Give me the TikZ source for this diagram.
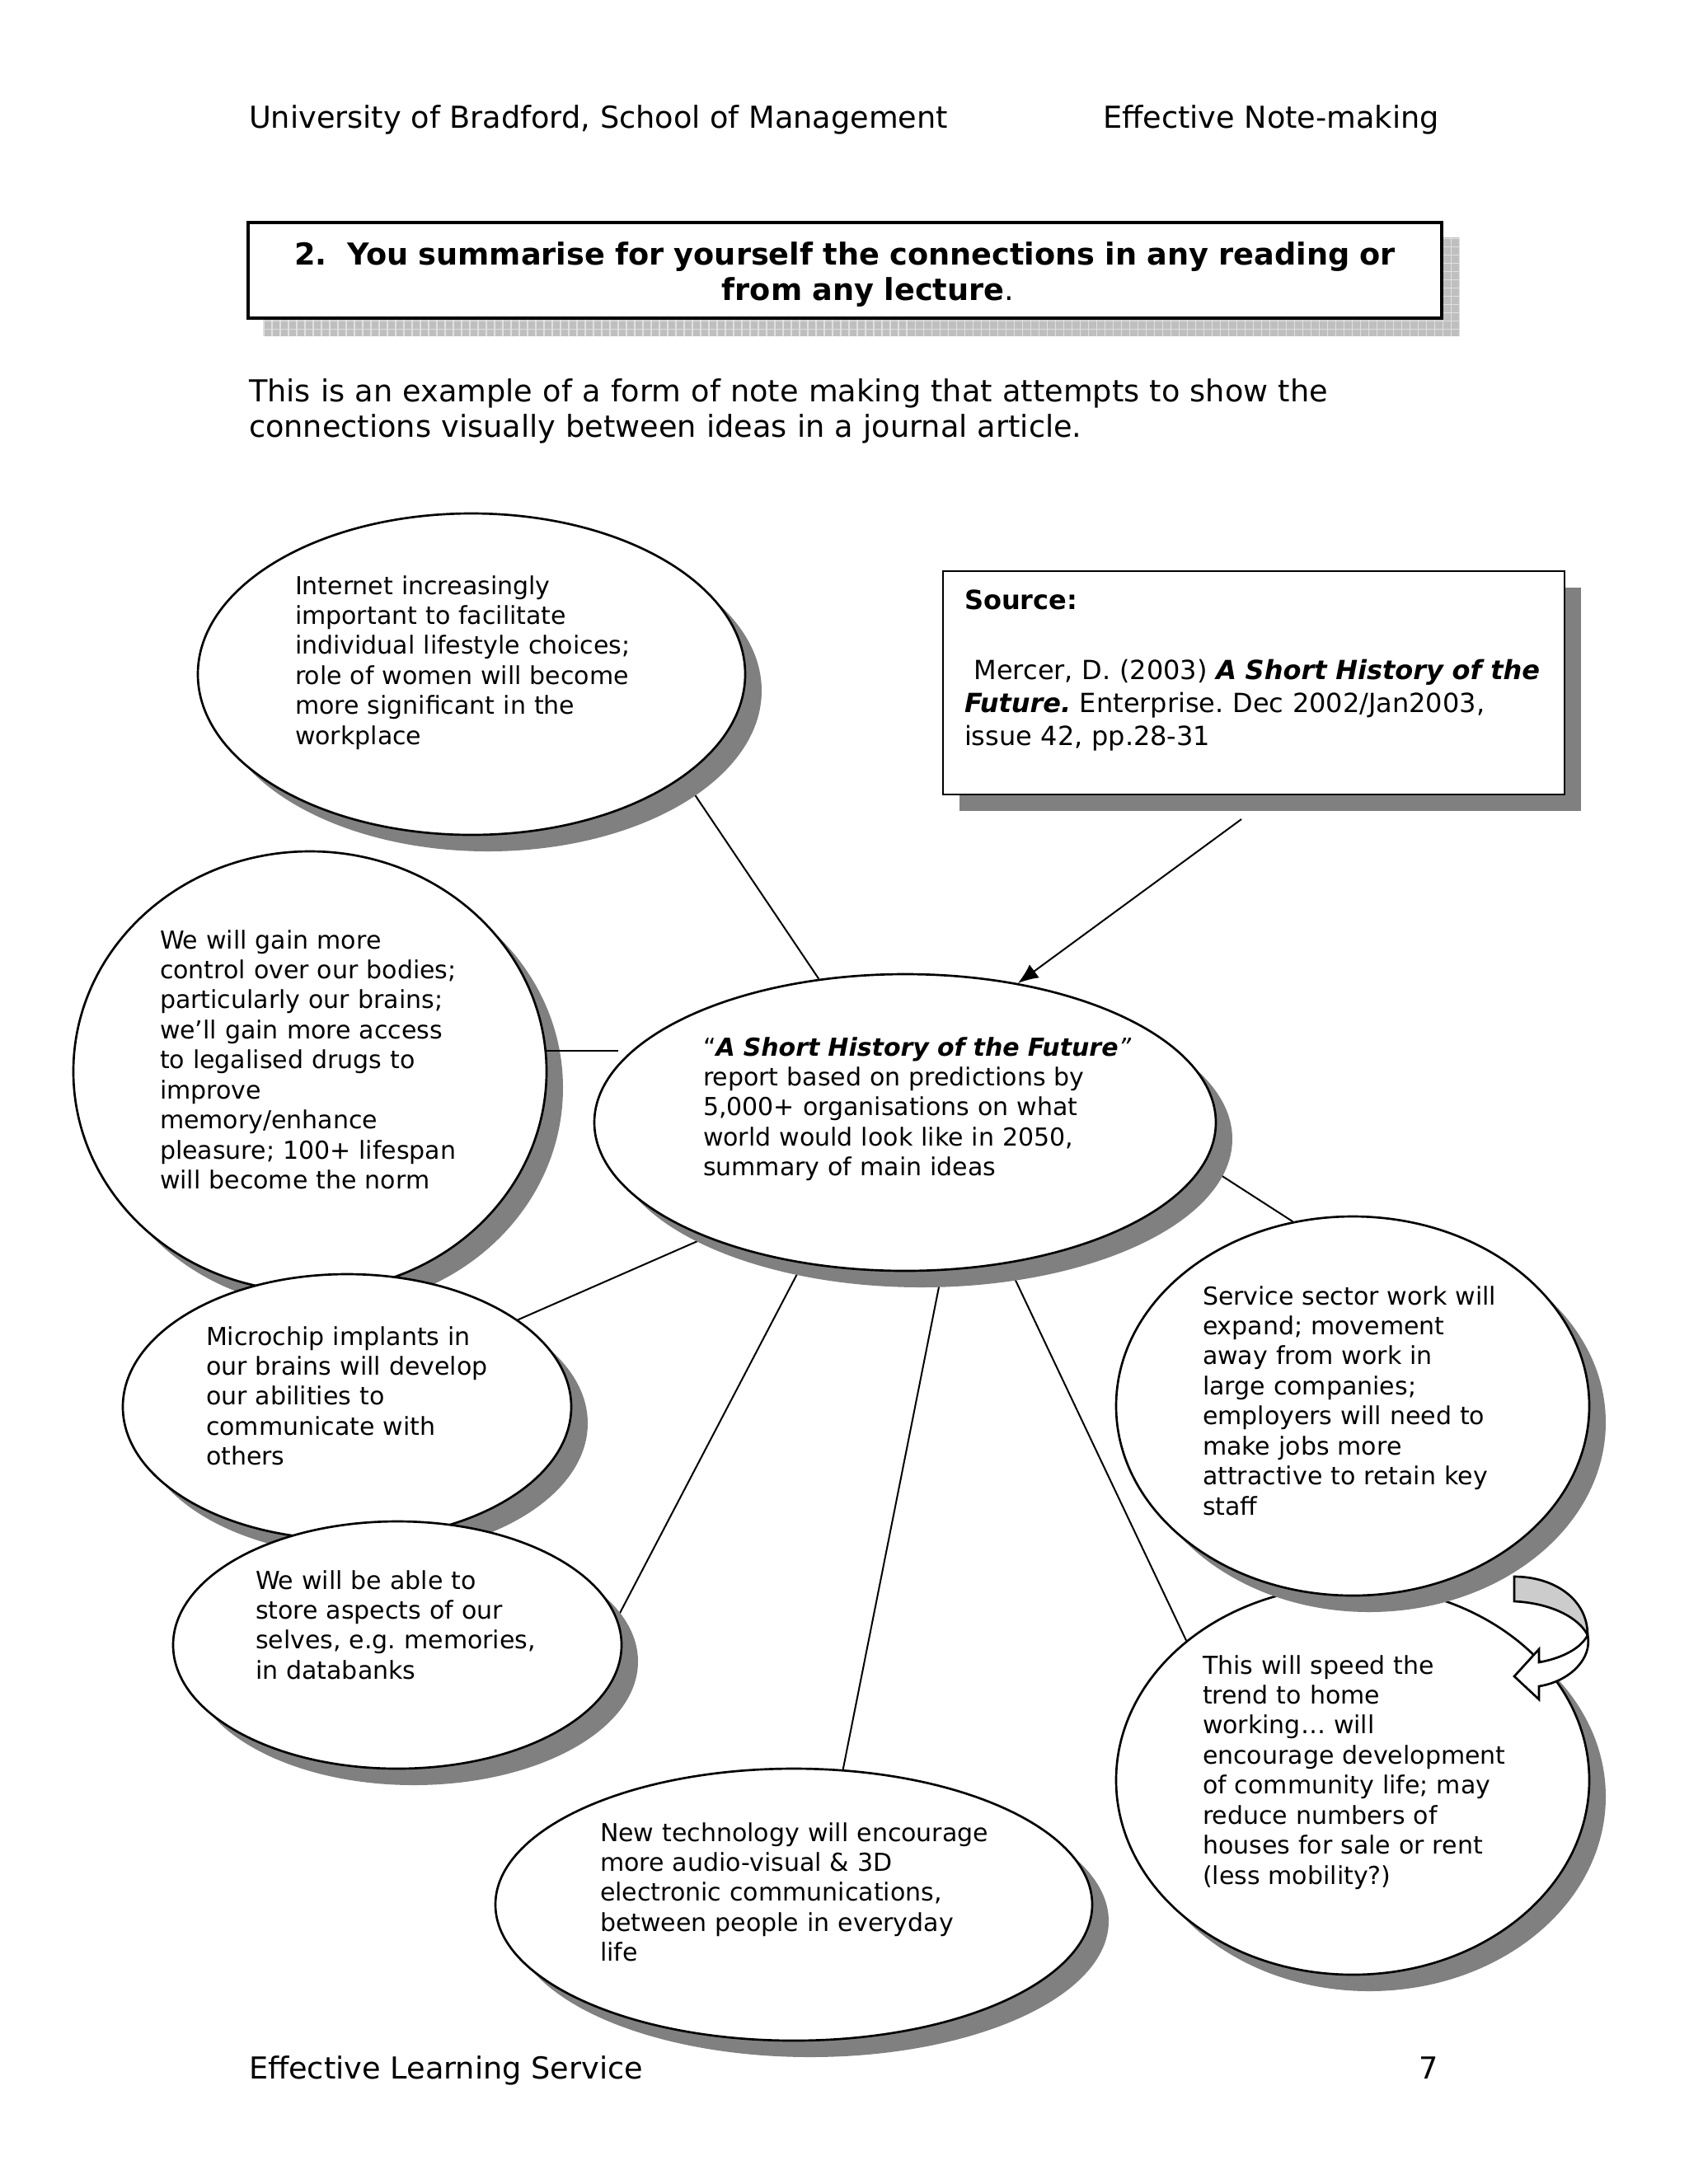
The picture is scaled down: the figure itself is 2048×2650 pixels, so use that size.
\documentclass[tikz,border=0pt]{standalone}
\usepackage{fontspec}
\setmainfont{DejaVu Sans}
\usetikzlibrary{arrows.meta,patterns,shapes.geometric,shadows,backgrounds}
\newlength\pxl
\setlength\pxl{0.10542mm}
\frenchspacing

\begin{document}
\begin{tikzpicture}[x=0.10542mm,y=-0.10542mm,line width=.6pt,
  castshadow/.style={drop shadow={shadow xshift=20\pxl,shadow yshift=-20\pxl,fill=black!50,opacity=1}},
  bubble/.style={ellipse,draw,line width=.8pt,fill=white,inner sep=0pt,castshadow},
  note/.style={anchor=base west,inner sep=0pt,text width=60mm,align=left,font=\fontsize{9}{10.94}\selectfont},
  page/.style={anchor=base west,inner sep=0pt,font=\fontsize{11}{13}\selectfont},
  link/.style={line width=.6pt}]
\path[use as bounding box] (0,0) rectangle (2048,2650);
\node[page] (head-l) at (301,155) {University of Bradford, School of Management};
\node[page] (head-r) at (1337,155) {Effective Note-making};
\node[draw,line width=1.1pt,fill=white,minimum width=1448\pxl,minimum height=116\pxl,inner sep=0pt] (title) at (1025,328) {};
\node[anchor=base,inner sep=0pt,text width=150mm,align=center,font=\fontsize{11}{13.1}\selectfont\bfseries] (title-txt) at (1025,321) {2.\ \ You summarise for yourself the connections in any reading or\\\hspace*{5.9mm}from any lecture{\mdseries .}};
\node[page,text width=170mm,align=left] (intro) at (301,487) {This is an example of a form of note making that attempts to show the\\connections visually between ideas in a journal article.};
\node[draw,line width=.8pt,fill=white,minimum width=754\pxl,minimum height=271\pxl,inner sep=0pt,castshadow] (src) at (1521,828.5) {};
\node[anchor=base west,inner sep=0pt,text width=90mm,align=left,font=\fontsize{9.6}{11.9}\selectfont] (src-txt) at (1169,739) {\textbf{Source:}\\[13.8pt]\hspace*{3.5pt}Mercer, D. (2003) \textbf{\textit{A Short History of the}}\\\textbf{\textit{Future.}} Enterprise. Dec 2002/Jan2003,\\issue 42, pp.28-31};
\node[bubble,minimum width=664\pxl,minimum height=390\pxl] (net) at (572,818) {};
\node[note] (net-txt) at (357,721) {Internet increasingly\\important to facilitate\\individual lifestyle choices;\\role of women will become\\more significant in the\\workplace};
\node[bubble,minimum width=574\pxl,minimum height=534\pxl] (gain) at (376,1300) {};
\node[note] (gain-txt) at (193,1151) {We will gain more\\control over our bodies;\\particularly our brains;\\we’ll gain more access\\to legalised drugs to\\improve\\memory/enhance\\pleasure; 100+ lifespan\\will become the norm};
\node[bubble,minimum width=544\pxl,minimum height=322\pxl] (chip) at (421,1707) {};
\node[note] (chip-txt) at (249,1632) {Microchip implants in\\our brains will develop\\our abilities to\\communicate with\\others};
\node[bubble,minimum width=544\pxl,minimum height=300\pxl] (store) at (482,1996) {};
\node[note] (store-txt) at (309,1928) {We will be able to\\store aspects of our\\selves, e.g. memories,\\in databanks};
\node[bubble,minimum width=574\pxl,minimum height=472\pxl] (home) at (1641,2160) {};
\node[note] (home-txt) at (1458,2031) {This will speed the\\trend to home\\working… will\\encourage development\\of community life; may\\reduce numbers of\\houses for sale or rent\\(less mobility?)};
\node[bubble,minimum width=574\pxl,minimum height=460\pxl] (work) at (1641,1706) {};
\node[note] (work-txt) at (1458,1583) {Service sector work will\\expand; movement\\away from work in\\large companies;\\employers will need to\\make jobs more\\attractive to retain key\\staff};
\node[bubble,minimum width=724\pxl,minimum height=330\pxl] (tech) at (963,2311) {};
\node[note] (tech-txt) at (727,2234) {New technology will encourage\\more audio-visual \& 3D\\electronic communications,\\between people in everyday\\life};
\node[bubble,minimum width=754\pxl,minimum height=360\pxl] (hub) at (1098,1362) {};
\node[note] (hub-txt) at (852,1281) {``\textbf{\textit{A Short History of the Future}}\textit{''}\\report based on predictions by\\5,000+ organisations on what\\world would look like in 2050,\\summary of main ideas};
\begin{scope}[on background layer]
\fill[black!25] ([shift={(20,20)}]title.north west) rectangle ([shift={(20,20)}]title.south east);
\fill[pattern=grid,pattern color=black!12] ([shift={(20,20)}]title.north west) rectangle ([shift={(20,20)}]title.south east);
\draw[link] (hub.121) -- (net.-26);
\draw[link] (hub.210) -- (chip.27);
\draw[link] (hub.-126) -- (store.7);
\draw[link] (hub.-76) -- (tech.70);
\draw[link] (hub.-54) -- (home.140);
\draw[link] (hub.-8) -- (work.108);
\end{scope}
\draw[link,shorten >=12\pxl] (gain.5) -- (gain.5 -| hub.166);
\coordinate (src-tail) at (1506,994);
\draw[link,-{Latex[length=2.6mm,width=2.1mm]}] (src-tail) -- (hub.51);
\filldraw[fill=black!20,line width=.8pt] (1837,1913) .. controls (1885,1913) and (1926,1940) .. (1926,1984) .. controls (1915,1962) and (1880,1945) .. (1837,1943) -- cycle;
\filldraw[fill=white,line width=.8pt] (1926,1984) .. controls (1932,2012) and (1905,2040) .. (1867,2046) -- (1867,2062) -- (1837,2034) -- (1867,2001) -- (1867,2017) .. controls (1895,2012) and (1918,2000) .. (1926,1984) -- cycle;
\node[page] (foot-l) at (301,2522) {Effective Learning Service};
\node[page,anchor=base east] (foot-r) at (1746,2522) {7};
\end{tikzpicture}
\end{document}
